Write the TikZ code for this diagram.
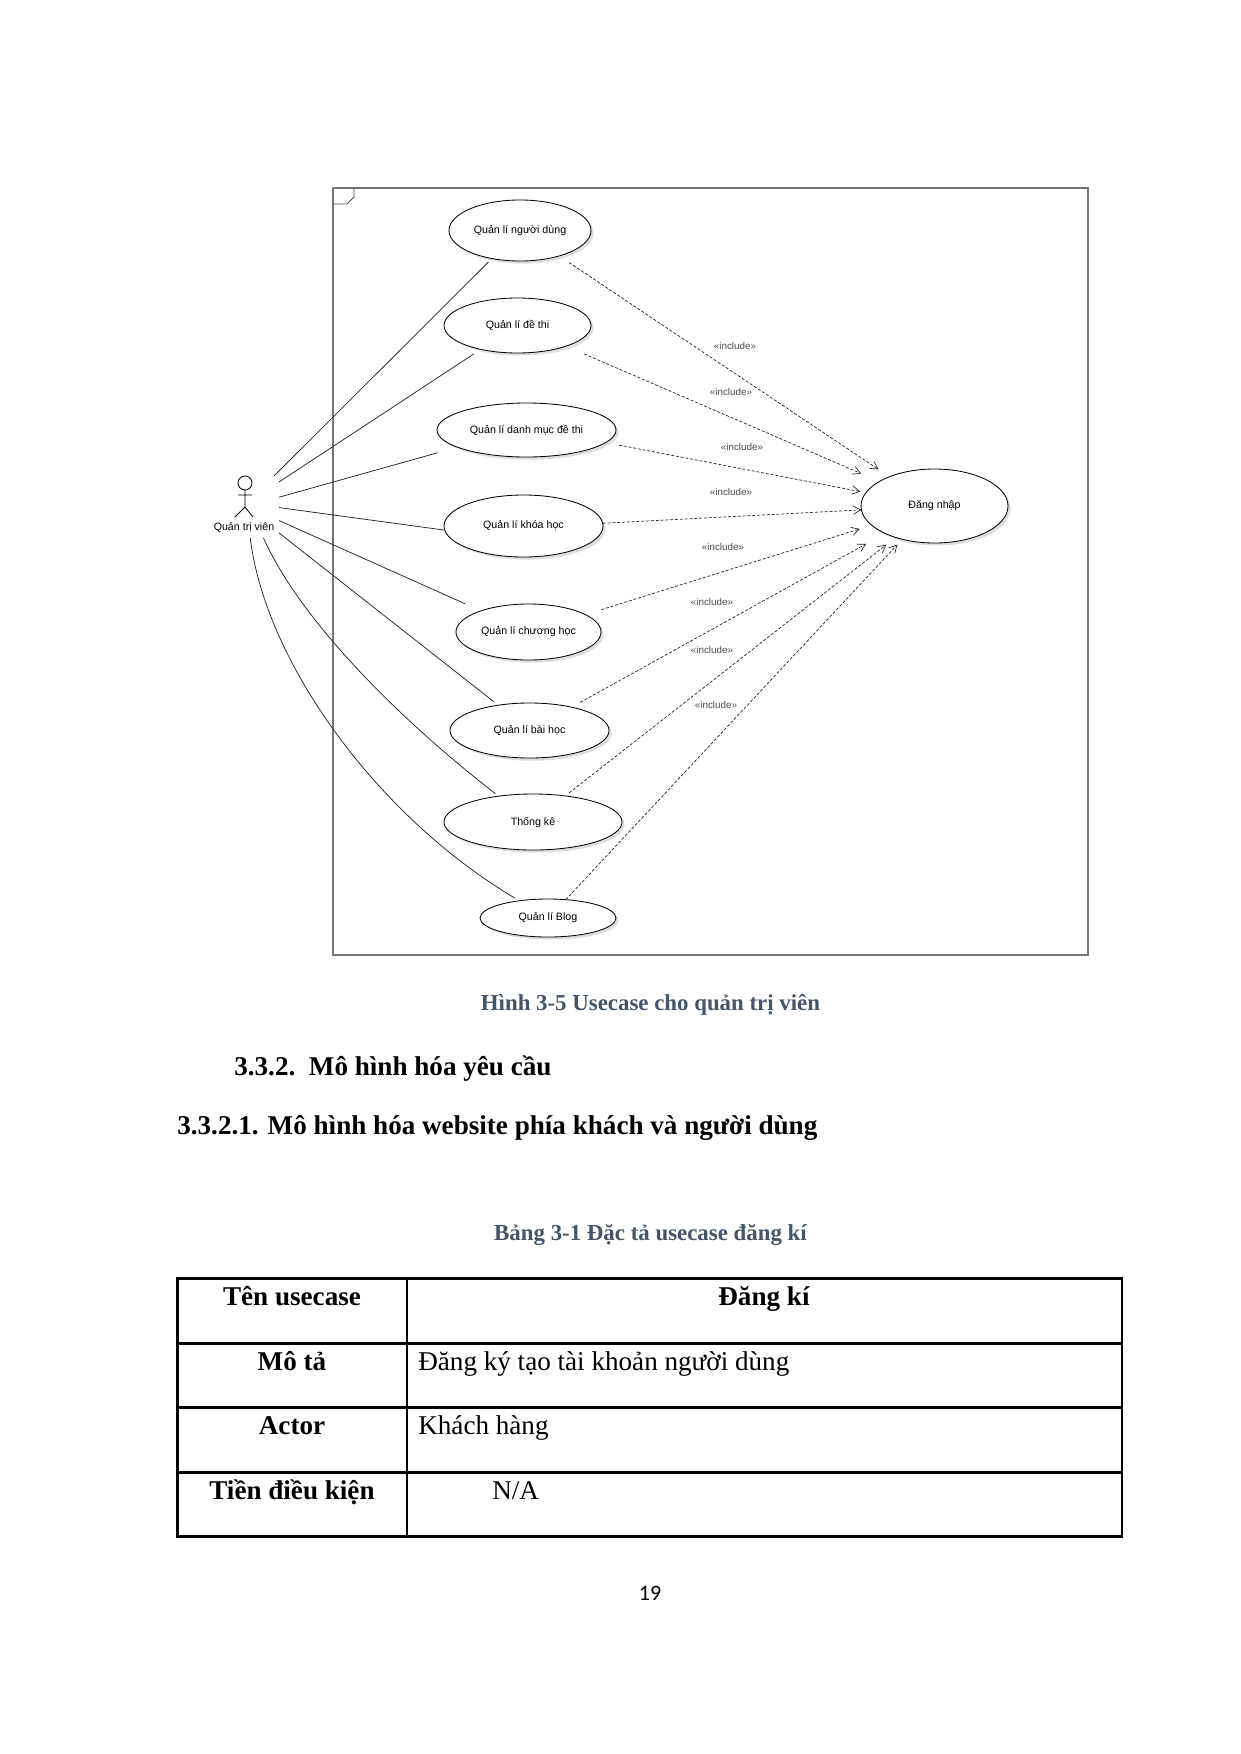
\documentclass[tikz,border=0pt]{standalone}
\usepackage{fontspec}
\setmainfont{Liberation Serif}
\newfontfamily\umlfont{Liberation Sans}
\newfontfamily\pagefont{Carlito}
\usetikzlibrary{arrows.meta,shapes.geometric,shadows}
\definecolor{capblue}{HTML}{44546A}
\definecolor{framegray}{HTML}{757575}
\tikzset{
  uc/.style 2 args={ellipse,draw=black,line width=0.5pt,fill=white,inner sep=0pt,outer sep=0pt,
    minimum width=#1*0.6pt,minimum height=#2*0.6pt,
    font=\umlfont\fontsize{6.4}{8}\selectfont,
    drop shadow={shadow xshift=1.6pt,shadow yshift=-1.6pt,fill=black!25,opacity=.5}},
  assoc/.style={line width=0.45pt,draw=black!85},
  incl/.style={line width=0.42pt,draw=black!85,dash pattern=on 1.8pt off 1.1pt,-{Straight Barb[length=4.5pt,width=5pt,line width=0.4pt]}},
  incltext/.style={text=black!70,font=\umlfont\fontsize{5.9}{7}\selectfont,inner sep=0pt},
  actorbox/.style={rectangle,inner sep=0pt,outer sep=0pt,minimum width=64*0.6pt,minimum height=62*0.6pt},
  capt/.style={anchor=base,inner sep=0pt,text=capblue,font=\bfseries\fontsize{13.72}{17}\selectfont},
  head/.style={anchor=base west,inner sep=0pt,font=\bfseries\fontsize{16.27}{20}\selectfont},
  cellb/.style={anchor=base,inner sep=0pt,font=\bfseries\fontsize{16.27}{20}\selectfont},
  cellr/.style={anchor=base west,inner sep=0pt,font=\fontsize{16.27}{20}\selectfont},
  tabline/.style={line width=1.3pt,draw=black},
}
\begin{document}
\begin{tikzpicture}[x=0.6pt,y=-0.6pt]
\useasboundingbox (0,0) rectangle (1240,1754);
\fill[white] (0,0) rectangle (1240,1754);
% frame
\draw[framegray,line width=1.1pt] (333,188) rectangle (1088,955);
\draw[black!70,line width=0.5pt] (333,204) -- (347,204) -- (354,197) -- (354,188);
% use cases
\node[uc={142}{61}] (e1) at (520,230.5) {Quản lí người dùng};
\node[uc={147}{55}] (e2) at (517.5,325.5) {Quản lí đề thi};
\node[uc={179}{54}] (e3) at (526.5,430) {Quản lí danh mục đề thi};
\node[uc={159}{62}] (e4) at (523.5,526) {Quản lí khóa học};
\node[uc={145}{56}] (e5) at (528.5,632) {Quản lí chương học};
\node[uc={159}{55}] (e6) at (529.5,730.5) {Quản lí bài học};
\node[uc={178}{56}] (e7) at (533,822) {Thống kê};
\node[uc={136}{38}] (e8) at (548,918) {Quản lí Blog};
\node[uc={147}{74}] (login) at (934.5,506) {Đăng nhập};
% actor
\node[actorbox] (actor) at (247,507) {};
\draw[line width=0.5pt] (245,483) circle[radius=7];
\draw[line width=0.5pt] (245,490) -- (245,507) (238,495) -- (252,495) (235,517) -- (245,507) -- (253,517);
\node[inner sep=0pt,font=\umlfont\fontsize{6.4}{8}\selectfont] (actorname) at (244,527.5) {Quản trị viên};
% associations
\draw[assoc,shorten >=3pt] (actor.49) -- (e1.225.5);
\draw[assoc,shorten >=5pt] (actor.38) -- (e2.213.2);
\draw[assoc,shorten >=12.5pt] (actor.17.4) -- (e3.194);
\draw[assoc] (actor.-1.8) -- (e4.183.6);
\draw[assoc,shorten >=10.5pt] (actor.-23.6) -- (e5.156.2);
\draw[assoc,shorten >=3pt] (actor.-39) -- (e6.141);
\draw[assoc,shorten >=2.5pt] (actor.-62.7) .. controls (300,620) and (400,720) .. (e7.143);
\draw[assoc,shorten >=3pt] (actor.-84.5) .. controls (265,660) and (375,815) .. (e8.149.5);
% includes
\draw[incl,shorten <=7.2pt,shorten >=7.9pt] (e1.-33.9) -- (login.147);
\draw[incl,shorten <=11.8pt,shorten >=12pt] (e2.-23.5) -- (login.156.8);
\draw[incl,shorten <=8pt,shorten >=3.4pt] (e3.-9.9) -- (login.169.3);
\draw[incl] (e4.2.9) -- (login.183.1);
\draw[incl,shorten <=10pt,shorten >=7.5pt] (e5.17.7) -- (login.197.2);
\draw[incl,shorten <=6pt,shorten >=13pt] (e6.29.6) -- (login.209);
\draw[incl,shorten <=3pt,shorten >=7.2pt] (e7.39) -- (login.219.7);
\draw[incl,shorten >=4.4pt] (e8.46.6) -- (login.226.8);
\node[incltext] (i1) at (735,346) {«include»};
\node[incltext] (i2) at (731,392) {«include»};
\node[incltext] (i3) at (742,447) {«include»};
\node[incltext] (i4) at (731,492) {«include»};
\node[incltext] (i5) at (723,547) {«include»};
\node[incltext] (i6) at (712,601.5) {«include»};
\node[incltext] (i7) at (712,650) {«include»};
\node[incltext] (i8) at (716,704.5) {«include»};
% page text
\node[capt] (cap1) at (650.5,1010) {Hình 3-5 Usecase cho quản trị viên};
\node[head] (h1) at (234,1075.5) {3.3.2.\ \ Mô hình hóa yêu cầu};
\node[head] (h2) at (177,1134.5) {3.3.2.1. Mô hình hóa website phía khách và người dùng};
\node[capt] (cap2) at (650.5,1240) {Bảng 3-1 Đặc tả usecase đăng kí};
% table
\draw[tabline] (177.5,1278.5) rectangle (1122,1536.5);
\draw[tabline] (177.5,1343.5) -- (1122,1343.5) (177.5,1407.5) -- (1122,1407.5) (177.5,1472.5) -- (1122,1472.5);
\draw[tabline,line width=0.9pt] (407,1278.5) -- (407,1536.5);
\node[cellb] (t11) at (292,1305.5) {Tên usecase};
\node[cellb] (t12) at (764,1305.5) {Đăng kí};
\node[cellb] (t21) at (292,1370.5) {Mô tả};
\node[cellr] (t22) at (418,1370.5) {Đăng ký tạo tài khoản người dùng};
\node[cellb] (t31) at (292,1434.5) {Actor};
\node[cellr] (t32) at (418,1434.5) {Khách hàng};
\node[cellb] (t41) at (292,1499.5) {Tiền điều kiện};
\node[cellr] (t42) at (492,1499.5) {N/A};
\node[anchor=base,inner sep=0pt,font=\pagefont\fontsize{13.2}{16}\selectfont] (pg) at (650,1600) {19};
\end{tikzpicture}
\end{document}
